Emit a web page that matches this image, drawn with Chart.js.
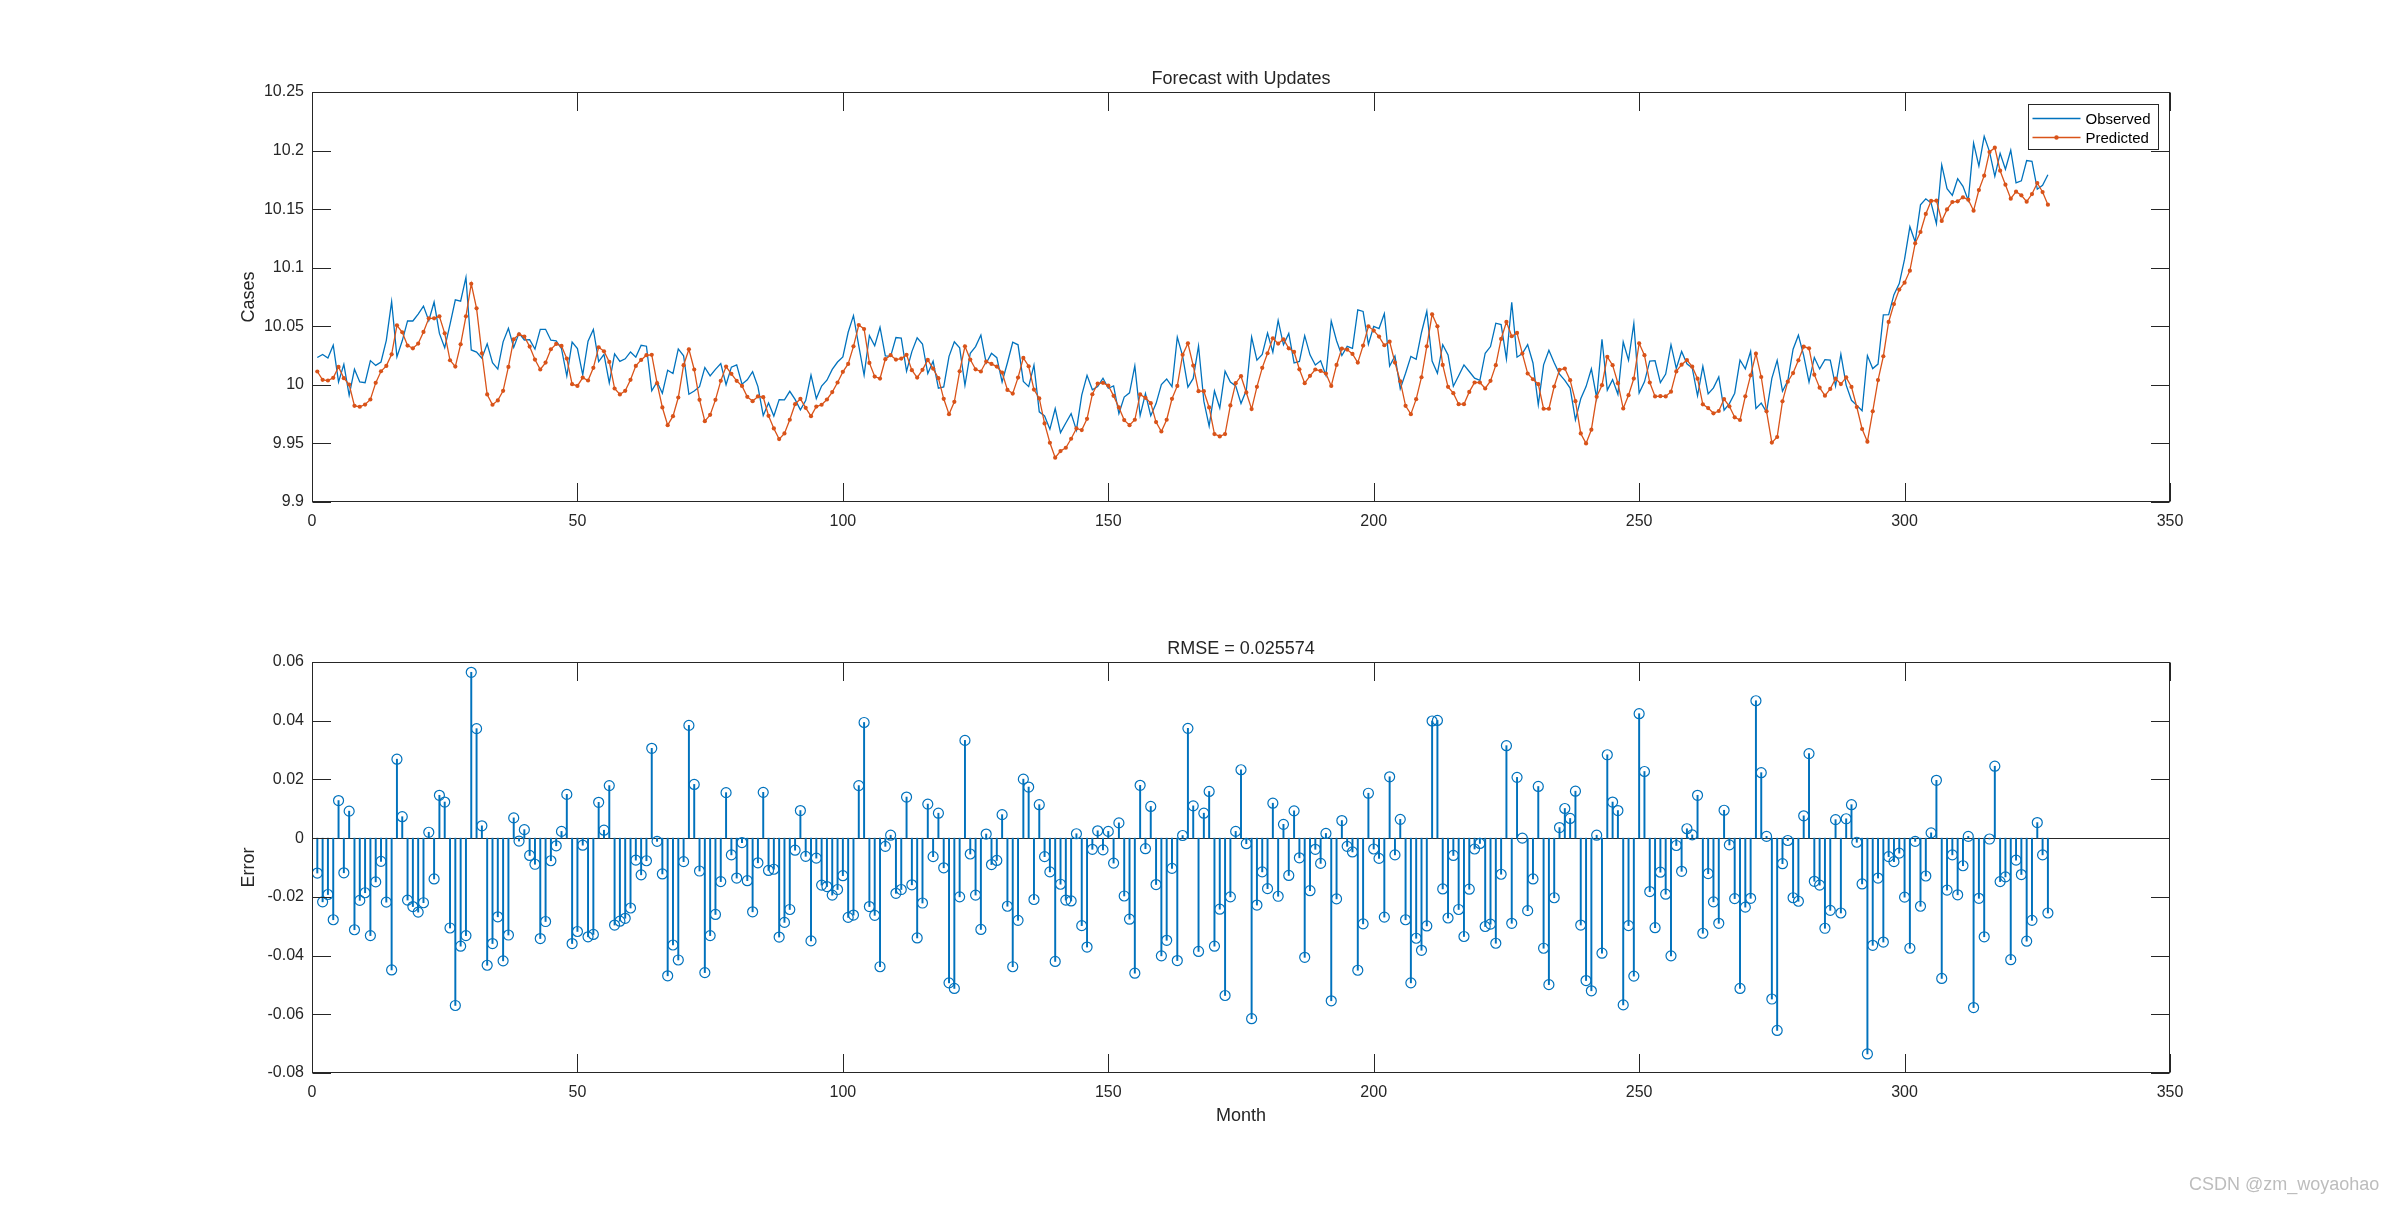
<!DOCTYPE html>
<html>
<head>
<meta charset="utf-8">
<script src="https://cdn.jsdelivr.net/npm/chart.js@4.4.1/dist/chart.umd.min.js"></script>
<style>
  html, body { margin: 0; padding: 0; background: #ffffff; }
  #wrap { position: relative; width: 2400px; height: 1207px; background: #ffffff; overflow: hidden; }
  #c1 { position: absolute; left: 0; top: 0; }
  #c2 { position: absolute; left: 0; top: 600px; }
  #wm { position: absolute; left: 2189px; top: 1174px; font: 18px "Liberation Sans", Arial, sans-serif; color: #bdbdbd; white-space: nowrap; }
</style>
</head>
<body>
<div id="wrap">
  <canvas id="c1" width="2400" height="600"></canvas>
  <canvas id="c2" width="2400" height="607"></canvas>
  <div id="wm">CSDN @zm_woyaohao</div>
</div>
<script>
// ---------------- DATA ----------------
const observed = [
10.0233,10.0260,10.0229,10.0338,10.0025,10.0175,9.9911,10.0133,10.0025,10.0018,
10.0207,10.0166,10.0195,10.0380,10.0710,10.0239,10.0376,10.0546,10.0545,10.0604,
10.0672,10.0548,10.0707,10.0439,10.0317,10.0516,10.0726,10.0714,10.0917,10.0298,
10.0280,10.0228,10.0351,10.0189,10.0135,10.0367,10.0483,10.0320,10.0442,10.0383,
10.0386,10.0305,10.0473,10.0474,10.0381,10.0375,10.0309,10.0075,10.0365,10.0309,
10.0086,10.0373,10.0473,10.0199,10.0260,10.0017,10.0265,10.0201,10.0222,10.0281,
10.0237,10.0338,10.0330,9.9950,10.0025,9.9929,10.0125,10.0097,10.0307,10.0248,
9.9920,9.9948,9.9984,10.0148,10.0076,10.0132,10.0182,10.0001,10.0151,10.0170,
10.0006,10.0043,10.0112,9.9985,9.9739,9.9846,9.9734,9.9874,9.9872,9.9945,
9.9876,9.9787,9.9866,10.0083,9.9883,9.9990,10.0040,10.0132,10.0195,10.0239,
10.0449,10.0591,10.0332,10.0083,10.0420,10.0334,10.0492,10.0247,10.0243,10.0404,
10.0399,10.0116,10.0284,10.0402,10.0349,10.0097,10.0202,9.9972,9.9982,10.0243,
10.0367,10.0316,9.9996,10.0270,10.0327,10.0425,10.0185,10.0269,10.0232,10.0025,
10.0189,10.0364,10.0342,10.0029,9.9985,10.0169,9.9770,9.9734,9.9621,9.9798,
9.9592,9.9674,9.9754,9.9613,9.9912,10.0081,9.9958,9.9986,10.0057,9.9971,
9.9991,9.9755,9.9896,9.9932,10.0162,9.9738,9.9925,9.9736,9.9840,10.0003,
10.0050,9.9984,10.0408,10.0247,9.9981,10.0055,10.0332,9.9861,9.9648,9.9948,
9.9802,10.0116,10.0024,9.9991,9.9841,9.9954,10.0408,10.0211,10.0260,10.0442,
10.0279,10.0550,10.0342,10.0439,10.0188,10.0200,10.0420,10.0256,10.0169,10.0205,
10.0081,10.0545,10.0377,10.0250,10.0329,10.0311,10.0640,10.0627,10.0347,10.0500,
10.0481,10.0607,10.0160,10.0247,9.9967,10.0099,10.0243,10.0219,10.0447,10.0628,
10.0203,10.0099,10.0343,10.0255,9.9988,10.0078,10.0170,10.0114,10.0057,10.0038,
10.0270,10.0327,10.0526,10.0515,10.0222,10.0705,10.0236,10.0267,10.0344,10.0187,
9.9830,10.0171,10.0295,10.0189,10.0092,10.0038,9.9973,9.9701,9.9881,9.9985,
10.0137,9.9888,10.0389,9.9955,10.0045,9.9920,10.0366,10.0210,10.0524,9.9931,
10.0026,10.0202,10.0206,10.0019,10.0092,10.0343,10.0140,10.0285,10.0180,10.0144,
9.9907,10.0158,9.9923,9.9974,10.0067,9.9784,9.9840,9.9929,10.0212,10.0137,
10.0286,9.9798,9.9844,9.9768,10.0055,10.0210,9.9946,10.0035,10.0304,10.0424,
10.0250,10.0024,10.0234,10.0136,10.0215,10.0211,9.9990,10.0262,9.9998,9.9868,
9.9825,9.9779,10.0250,10.0139,10.0177,10.0598,10.0600,10.0770,10.0864,10.1073,
10.1350,10.1219,10.1537,10.1588,10.1552,10.1375,10.1877,10.1675,10.1618,10.1760,
10.1695,10.1575,10.2064,10.1868,10.2122,10.1991,10.1780,10.1976,10.1841,10.2003,
10.1724,10.1742,10.1915,10.1909,10.1670,10.1703,10.1793
];

const predicted = [
10.0114,10.0043,10.0037,10.0060,10.0153,10.0057,10.0003,9.9821,9.9813,9.9832,
9.9875,10.0017,10.0116,10.0162,10.0261,10.0508,10.0449,10.0335,10.0312,10.0352,
10.0452,10.0568,10.0568,10.0585,10.0440,10.0210,10.0156,10.0346,10.0585,10.0863,
10.0653,10.0270,9.9918,9.9830,9.9867,9.9949,10.0153,10.0389,10.0432,10.0412,
10.0327,10.0216,10.0131,10.0190,10.0304,10.0349,10.0332,10.0224,10.0006,9.9991,
10.0062,10.0037,10.0145,10.0321,10.0287,10.0196,9.9969,9.9918,9.9949,10.0043,
10.0162,10.0213,10.0253,10.0256,10.0014,9.9807,9.9656,9.9733,9.9892,10.0168,
10.0304,10.0131,9.9872,9.9690,9.9744,9.9872,10.0034,10.0156,10.0094,10.0034,
9.9991,9.9898,9.9861,9.9901,9.9895,9.9736,9.9628,9.9537,9.9585,9.9702,
9.9835,9.9881,9.9804,9.9733,9.9815,9.9830,9.9875,9.9938,10.0020,10.0111,
10.0179,10.0329,10.0511,10.0477,10.0187,10.0071,10.0054,10.0219,10.0253,10.0216,
10.0224,10.0256,10.0125,10.0062,10.0128,10.0213,10.0139,10.0057,9.9881,9.9750,
9.9855,10.0116,10.0329,10.0216,10.0133,10.0114,10.0199,10.0179,10.0156,10.0105,
9.9957,9.9926,10.0062,10.0230,10.0159,9.9960,9.9884,9.9671,9.9506,9.9378,
9.9435,9.9463,9.9540,9.9628,9.9614,9.9710,9.9920,10.0011,10.0017,9.9994,
9.9906,9.9807,9.9699,9.9656,9.9702,9.9918,9.9889,9.9844,9.9682,9.9602,
9.9702,9.9881,9.9991,10.0256,10.0355,10.0165,9.9946,9.9946,9.9807,9.9580,
9.9560,9.9580,9.9824,10.0014,10.0074,9.9935,9.9793,9.9983,10.0145,10.0270,
10.0398,10.0352,10.0389,10.0312,10.0281,10.0133,10.0014,10.0077,10.0131,10.0119,
10.0097,9.9991,10.0170,10.0310,10.0301,10.0264,10.0190,10.0335,10.0500,10.0463,
10.0412,10.0338,10.0369,10.0190,10.0031,9.9821,9.9750,9.9878,10.0065,10.0329,
10.0602,10.0500,10.0170,9.9983,9.9929,9.9835,9.9835,9.9940,10.0020,10.0020,
9.9969,10.0034,10.0168,10.0392,10.0537,10.0415,10.0443,10.0267,10.0097,10.0048,
10.0006,9.9796,9.9796,9.9986,10.0128,10.0139,10.0040,9.9861,9.9585,9.9500,
9.9617,9.9898,9.9997,10.0239,10.0168,10.0014,9.9798,9.9912,10.0054,10.0355,
10.0253,10.0020,9.9901,9.9903,9.9901,9.9942,10.0115,10.0172,10.0212,10.0155,
10.0053,9.9834,9.9802,9.9757,9.9777,9.9879,9.9817,9.9723,9.9700,9.9902,
10.0081,10.0266,10.0067,9.9774,9.9507,9.9555,9.9859,10.0027,10.0101,10.0209,
10.0326,10.0312,10.0087,9.9976,9.9908,9.9965,10.0053,10.0007,10.0064,9.9982,
9.9811,9.9623,9.9515,9.9774,10.0041,10.0244,10.0537,10.0690,10.0813,10.0872,
10.0975,10.1208,10.1305,10.1459,10.1570,10.1572,10.1399,10.1498,10.1561,10.1567,
10.1601,10.1581,10.1487,10.1663,10.1786,10.1988,10.2025,10.1828,10.1709,10.1589,
10.1649,10.1618,10.1564,10.1629,10.1723,10.1646,10.1538
];

const errors = [
-0.0119,-0.0217,-0.0192,-0.0278,0.0128,-0.0118,0.0092,-0.0312,-0.0212,-0.0186,
-0.0332,-0.0149,-0.0079,-0.0218,-0.0449,0.0269,0.0073,-0.0211,-0.0233,-0.0252,
-0.0220,0.0020,-0.0139,0.0146,0.0123,-0.0306,-0.0570,-0.0368,-0.0332,0.0565,
0.0373,0.0042,-0.0433,-0.0359,-0.0268,-0.0418,-0.0330,0.0069,-0.0010,0.0029,
-0.0059,-0.0089,-0.0342,-0.0284,-0.0077,-0.0026,0.0023,0.0149,-0.0359,-0.0318,
-0.0024,-0.0336,-0.0328,0.0122,0.0027,0.0179,-0.0296,-0.0283,-0.0273,-0.0238,
-0.0075,-0.0125,-0.0077,0.0306,-0.0011,-0.0122,-0.0469,-0.0364,-0.0415,-0.0080,
0.0384,0.0183,-0.0112,-0.0458,-0.0332,-0.0260,-0.0148,0.0155,-0.0057,-0.0136,
-0.0015,-0.0145,-0.0251,-0.0084,0.0156,-0.0110,-0.0106,-0.0337,-0.0287,-0.0243,
-0.0041,0.0094,-0.0062,-0.0350,-0.0068,-0.0160,-0.0165,-0.0194,-0.0175,-0.0128,
-0.0270,-0.0262,0.0179,0.0394,-0.0233,-0.0263,-0.0438,-0.0028,0.0010,-0.0188,
-0.0175,0.0140,-0.0159,-0.0340,-0.0221,0.0116,-0.0063,0.0085,-0.0101,-0.0493,
-0.0512,-0.0200,0.0333,-0.0054,-0.0194,-0.0311,0.0014,-0.0090,-0.0076,0.0080,
-0.0232,-0.0438,-0.0280,0.0201,0.0174,-0.0209,0.0114,-0.0063,-0.0115,-0.0420,
-0.0157,-0.0211,-0.0214,0.0015,-0.0298,-0.0371,-0.0038,0.0025,-0.0040,0.0023,
-0.0085,0.0052,-0.0197,-0.0276,-0.0460,0.0180,-0.0036,0.0108,-0.0158,-0.0401,
-0.0348,-0.0103,-0.0417,0.0009,0.0374,0.0110,-0.0386,0.0085,0.0159,-0.0368,
-0.0242,-0.0536,-0.0200,0.0023,0.0233,-0.0019,-0.0615,-0.0228,-0.0115,-0.0172,
0.0119,-0.0198,0.0047,-0.0127,0.0093,-0.0067,-0.0406,-0.0179,-0.0038,-0.0086,
0.0016,-0.0554,-0.0207,0.0060,-0.0028,-0.0047,-0.0450,-0.0292,0.0153,-0.0037,
-0.0069,-0.0269,0.0209,-0.0057,0.0064,-0.0278,-0.0493,-0.0341,-0.0382,-0.0299,
0.0399,0.0401,-0.0173,-0.0272,-0.0059,-0.0243,-0.0335,-0.0174,-0.0037,-0.0018,
-0.0301,-0.0293,-0.0358,-0.0123,0.0315,-0.0290,0.0207,0.0000,-0.0247,-0.0139,
0.0176,-0.0375,-0.0499,-0.0203,0.0036,0.0101,0.0067,0.0160,-0.0296,-0.0485,
-0.0520,0.0010,-0.0392,0.0284,0.0123,0.0094,-0.0568,-0.0298,-0.0470,0.0424,
0.0227,-0.0182,-0.0305,-0.0116,-0.0191,-0.0401,-0.0025,-0.0113,0.0032,0.0011,
0.0146,-0.0324,-0.0121,-0.0217,-0.0290,0.0095,-0.0023,-0.0206,-0.0512,-0.0235,
-0.0205,0.0468,0.0223,0.0006,-0.0548,-0.0655,-0.0087,-0.0008,-0.0203,-0.0215,
0.0076,0.0288,-0.0147,-0.0160,-0.0307,-0.0246,0.0063,-0.0255,0.0066,0.0114,
-0.0014,-0.0156,-0.0735,-0.0365,-0.0136,-0.0354,-0.0063,-0.0080,-0.0051,-0.0201,
-0.0375,-0.0011,-0.0232,-0.0129,0.0018,0.0197,-0.0478,-0.0177,-0.0057,-0.0193,
-0.0094,0.0006,-0.0577,-0.0205,-0.0336,-0.0003,0.0245,-0.0148,-0.0132,-0.0414,
-0.0075,-0.0124,-0.0351,-0.0280,0.0053,-0.0057,-0.0255
];

// month index for every sample (1..N)
const months = observed.map((_, i) => i + 1);

const xTickValues = [0, 50, 100, 150, 200, 250, 300, 350];
const xTickLabels = ['0', '50', '100', '150', '200', '250', '300', '350'];
const topTickValues = [9.9, 9.95, 10, 10.05, 10.1, 10.15, 10.2, 10.25];
const topTickLabels = ['9.9', '9.95', '10', '10.05', '10.1', '10.15', '10.2', '10.25'];
const errTickValues = [-0.08, -0.06, -0.04, -0.02, 0, 0.02, 0.04, 0.06];
const errTickLabels = ['-0.08', '-0.06', '-0.04', '-0.02', '0', '0.02', '0.04', '0.06'];

const topTitle = 'Forecast with Updates';
const topYLabel = 'Cases';
const bottomTitle = 'RMSE = 0.025574';
const bottomYLabel = 'Error';
const bottomXLabel = 'Month';
const seriesNames = ['Observed', 'Predicted'];

// ---------------- STYLE ----------------
const FONT = '"Liberation Sans", Arial, Helvetica, sans-serif';
const AX = '#262626';
const BLUE = '#0072BD';
const ORANGE = '#D95319';
const TICKLEN = 18.5;

const matlabAxes = {
  id: 'matlabAxes',
  beforeDatasetsDraw(chart, args, o) {
    const { ctx, chartArea: a, scales } = chart;
    if (o.baseline) {
      ctx.save();
      ctx.strokeStyle = AX;
      ctx.lineWidth = 1;
      const y0 = Math.round(scales.y.getPixelForValue(0)) + 0.5;
      ctx.beginPath();
      ctx.moveTo(a.left, y0);
      ctx.lineTo(a.right, y0);
      ctx.stroke();
      ctx.restore();
    }
  },
  afterDatasetsDraw(chart, args, o) {
    const { ctx, chartArea: a, scales } = chart;
    ctx.save();
    ctx.strokeStyle = AX;
    ctx.lineWidth = 1;
    const L = Math.round(a.left) + 0.5, R = Math.round(a.right) - 0.5;
    const T = Math.round(a.top) + 0.5, B = Math.round(a.bottom) - 0.5;
    ctx.strokeRect(L, T, R - L, B - T);
    ctx.beginPath();
    scales.x.ticks.forEach(t => {
      const x = Math.round(scales.x.getPixelForValue(t.value)) + 0.5;
      ctx.moveTo(x, B); ctx.lineTo(x, B - TICKLEN);
      ctx.moveTo(x, T); ctx.lineTo(x, T + TICKLEN);
    });
    scales.y.ticks.forEach(t => {
      const y = Math.round(scales.y.getPixelForValue(t.value)) + 0.5;
      ctx.moveTo(L, y); ctx.lineTo(L + TICKLEN, y);
      ctx.moveTo(R, y); ctx.lineTo(R - TICKLEN, y);
    });
    ctx.stroke();

    // texts
    ctx.fillStyle = AX;
    const cx = (a.left + a.right) / 2;
    if (o.title) {
      ctx.font = '18px ' + FONT;
      ctx.textAlign = 'center';
      ctx.textBaseline = 'alphabetic';
      ctx.fillText(o.title, cx, a.top - 8);
    }
    if (o.ylabel) {
      ctx.save();
      ctx.translate(a.left - 63, (a.top + a.bottom) / 2);
      ctx.rotate(-Math.PI / 2);
      ctx.font = '18px ' + FONT;
      ctx.textAlign = 'center';
      ctx.textBaseline = 'middle';
      ctx.fillText(o.ylabel, 0, 0);
      ctx.restore();
    }
    if (o.xlabel) {
      ctx.font = '18px ' + FONT;
      ctx.textAlign = 'center';
      ctx.textBaseline = 'middle';
      ctx.fillText(o.xlabel, cx, a.bottom + 43);
    }
    if (o.legend) {
      const bw = 130, bh = 45;
      const bx = Math.round(a.right) - 12 - bw + 0.5, by = Math.round(a.top) + 12 + 0.5;
      ctx.fillStyle = '#ffffff';
      ctx.fillRect(bx, by, bw, bh);
      ctx.strokeStyle = AX;
      ctx.strokeRect(bx, by, bw, bh);
      const rows = [
        { name: o.legend[0], color: BLUE, dot: false, y: by + 14 },
        { name: o.legend[1], color: ORANGE, dot: true, y: by + 33 }
      ];
      rows.forEach(r => {
        ctx.strokeStyle = r.color;
        ctx.lineWidth = 1.3;
        ctx.beginPath();
        ctx.moveTo(bx + 4, r.y);
        ctx.lineTo(bx + 52, r.y);
        ctx.stroke();
        if (r.dot) {
          ctx.fillStyle = r.color;
          ctx.beginPath();
          ctx.arc(bx + 28, r.y, 2.2, 0, Math.PI * 2);
          ctx.fill();
        }
        ctx.fillStyle = '#000000';
        ctx.font = '15px ' + FONT;
        ctx.textAlign = 'left';
        ctx.textBaseline = 'middle';
        ctx.fillText(r.name, bx + 57, r.y + 1);
      });
    }
    ctx.restore();
  }
};

function xScale() {
  return {
    type: 'linear',
    min: 0, max: 350,
    offset: false,
    grid: { display: false, drawTicks: false },
    border: { display: false },
    afterBuildTicks: s => { s.ticks = xTickValues.map(v => ({ value: v })); },
    afterFit: s => { s.height = 60; },
    ticks: {
      callback: (v, i) => xTickLabels[i],
      color: AX,
      font: { family: FONT, size: 16 },
      padding: 10,
      maxRotation: 0,
      autoSkip: false
    }
  };
}
function yScale(min, max, vals, labels) {
  return {
    type: 'linear',
    min: min, max: max,
    grid: { display: false, drawTicks: false },
    border: { display: false },
    afterBuildTicks: s => { s.ticks = vals.map(v => ({ value: v })); },
    afterFit: s => { s.width = 100; },
    ticks: {
      callback: (v, i) => labels[i],
      color: AX,
      font: { family: FONT, size: 16 },
      padding: 8,
      autoSkip: false
    }
  };
}

Chart.defaults.animation = false;
Chart.defaults.devicePixelRatio = 1;

// ---------------- TOP CHART ----------------
new Chart(document.getElementById('c1'), {
  type: 'line',
  data: {
    datasets: [
      {
        label: seriesNames[0],
        data: months.map((m, i) => ({ x: m, y: observed[i] })),
        borderColor: BLUE,
        borderWidth: 1.3,
        pointRadius: 0,
        tension: 0,
        order: 2
      },
      {
        label: seriesNames[1],
        data: months.map((m, i) => ({ x: m, y: predicted[i] })),
        borderColor: ORANGE,
        backgroundColor: ORANGE,
        borderWidth: 1.3,
        pointRadius: 2.1,
        pointBorderWidth: 0,
        pointBackgroundColor: ORANGE,
        tension: 0,
        order: 1
      }
    ]
  },
  options: {
    responsive: false,
    animation: false,
    layout: { padding: { left: 212, right: 230, top: 92, bottom: 38 } },
    scales: {
      x: xScale(),
      y: yScale(9.9, 10.25, topTickValues, topTickLabels)
    },
    plugins: {
      legend: { display: false },
      tooltip: { enabled: false },
      matlabAxes: { title: topTitle, ylabel: topYLabel, legend: seriesNames }
    }
  },
  plugins: [matlabAxes]
});

// ---------------- BOTTOM CHART ----------------
const errPoints = months.map((m, i) => ({ x: m, y: errors[i] }));
new Chart(document.getElementById('c2'), {
  type: 'bar',
  data: {
    datasets: [
      {
        type: 'bar',
        label: 'stem',
        data: errPoints,
        backgroundColor: BLUE,
        borderWidth: 0,
        barThickness: 1.3,
        order: 2
      },
      {
        type: 'scatter',
        label: 'marker',
        data: errPoints,
        showLine: false,
        pointStyle: 'circle',
        pointRadius: 5,
        pointBorderWidth: 1.2,
        borderColor: BLUE,
        backgroundColor: 'rgba(0,0,0,0)',
        pointBackgroundColor: 'rgba(0,0,0,0)',
        order: 1
      }
    ]
  },
  options: {
    responsive: false,
    animation: false,
    layout: { padding: { left: 212, right: 230, top: 62, bottom: 74 } },
    scales: {
      x: xScale(),
      y: yScale(-0.08, 0.06, errTickValues, errTickLabels)
    },
    plugins: {
      legend: { display: false },
      tooltip: { enabled: false },
      matlabAxes: { title: bottomTitle, ylabel: bottomYLabel, xlabel: bottomXLabel, baseline: true }
    }
  },
  plugins: [matlabAxes]
});
</script>
</body>
</html>
